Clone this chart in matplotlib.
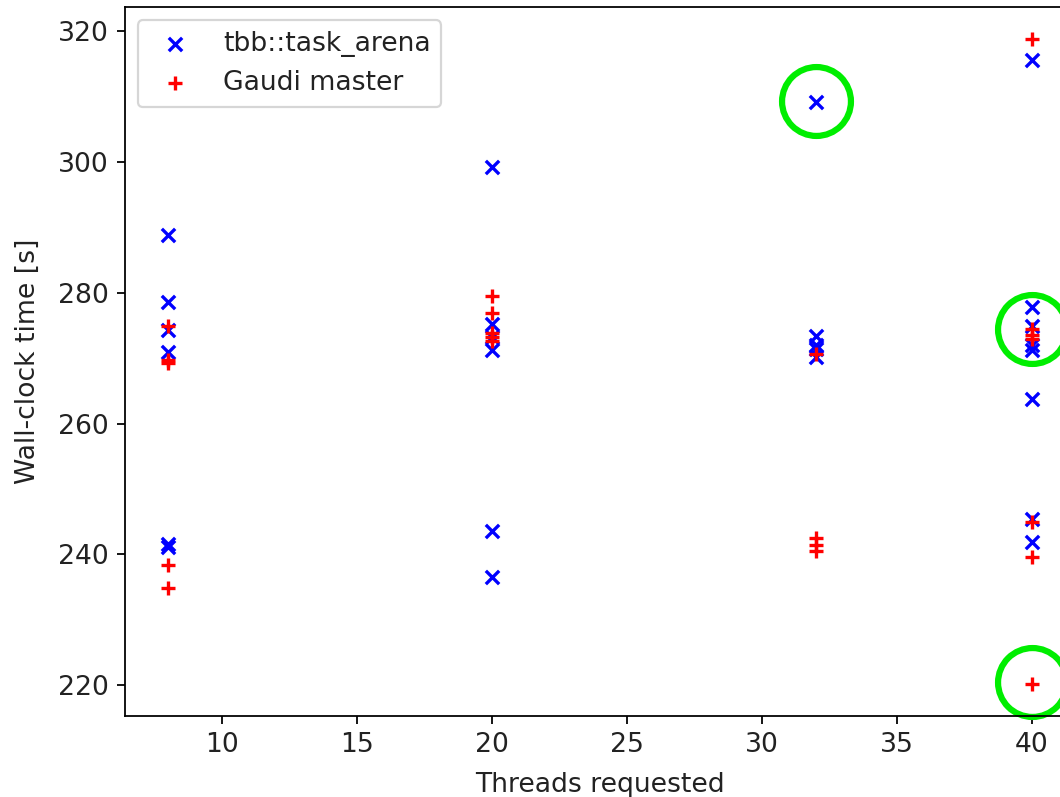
import matplotlib
matplotlib.use('Agg')
import matplotlib.pyplot as plt

# wall-clock times [s] per requested thread count
TBB_THREADS = [8, 8, 8, 8, 8, 8,
               20, 20, 20, 20, 20, 20,
               32, 32, 32, 32, 32,
               40, 40, 40, 40, 40, 40, 40, 40]
TBB_TIMES = [288.8, 278.6, 274.3, 270.9, 241.6, 241.1,
             299.3, 275.2, 273.3, 271.2, 243.6, 236.5,
             309.2, 273.4, 272.1, 271.4, 270.2,
             315.6, 277.9, 275.0, 272.0, 271.3, 263.8, 245.4, 241.9]

GAUDI_THREADS = [8, 8, 8, 8, 8,
                 20, 20, 20, 20, 20,
                 32, 32, 32, 32,
                 40, 40, 40, 40, 40, 40, 40]
GAUDI_TIMES = [275.0, 269.8, 269.2, 238.4, 234.9,
               279.5, 276.9, 273.8, 273.2, 272.6,
               270.6, 242.5, 241.5, 240.5,
               318.8, 274.4, 273.6, 273.0, 244.9, 239.6, 220.2]

# highlighted outliers
HIGHLIGHT_X = [32, 40, 40]
HIGHLIGHT_Y = [309.3, 274.5, 220.4]

DPI = 160
plt.rcParams['font.size'] = 12.0
plt.rcParams['text.color'] = '#222222'
plt.rcParams['axes.labelcolor'] = '#222222'
plt.rcParams['xtick.labelcolor'] = '#222222'
plt.rcParams['ytick.labelcolor'] = '#222222'

fig = plt.figure(figsize=(1060 / DPI, 797 / DPI), dpi=DPI)
# axes runs past the right edge of the figure (as in the cropped original)
ax = fig.add_axes([124.5 / 1060, 1 - 716 / 797, 950.5 / 1060, 709 / 797])

ax.scatter(TBB_THREADS, TBB_TIMES, marker='x', color='blue', label='tbb::task_arena')
ax.scatter(GAUDI_THREADS, GAUDI_TIMES, marker='+', color='red', label='Gaudi master')
ax.plot(HIGHLIGHT_X, HIGHLIGHT_Y, ls='none', marker='o', ms=31, mfc='none',
        mec='#00ee00', mew=2.8, clip_on=False)

ax.set_xlabel('Threads requested', labelpad=6.5)
ax.set_ylabel('Wall-clock time [s]', labelpad=7.5)
ax.legend(loc='upper left')

fig.savefig('out.png', dpi=DPI)
